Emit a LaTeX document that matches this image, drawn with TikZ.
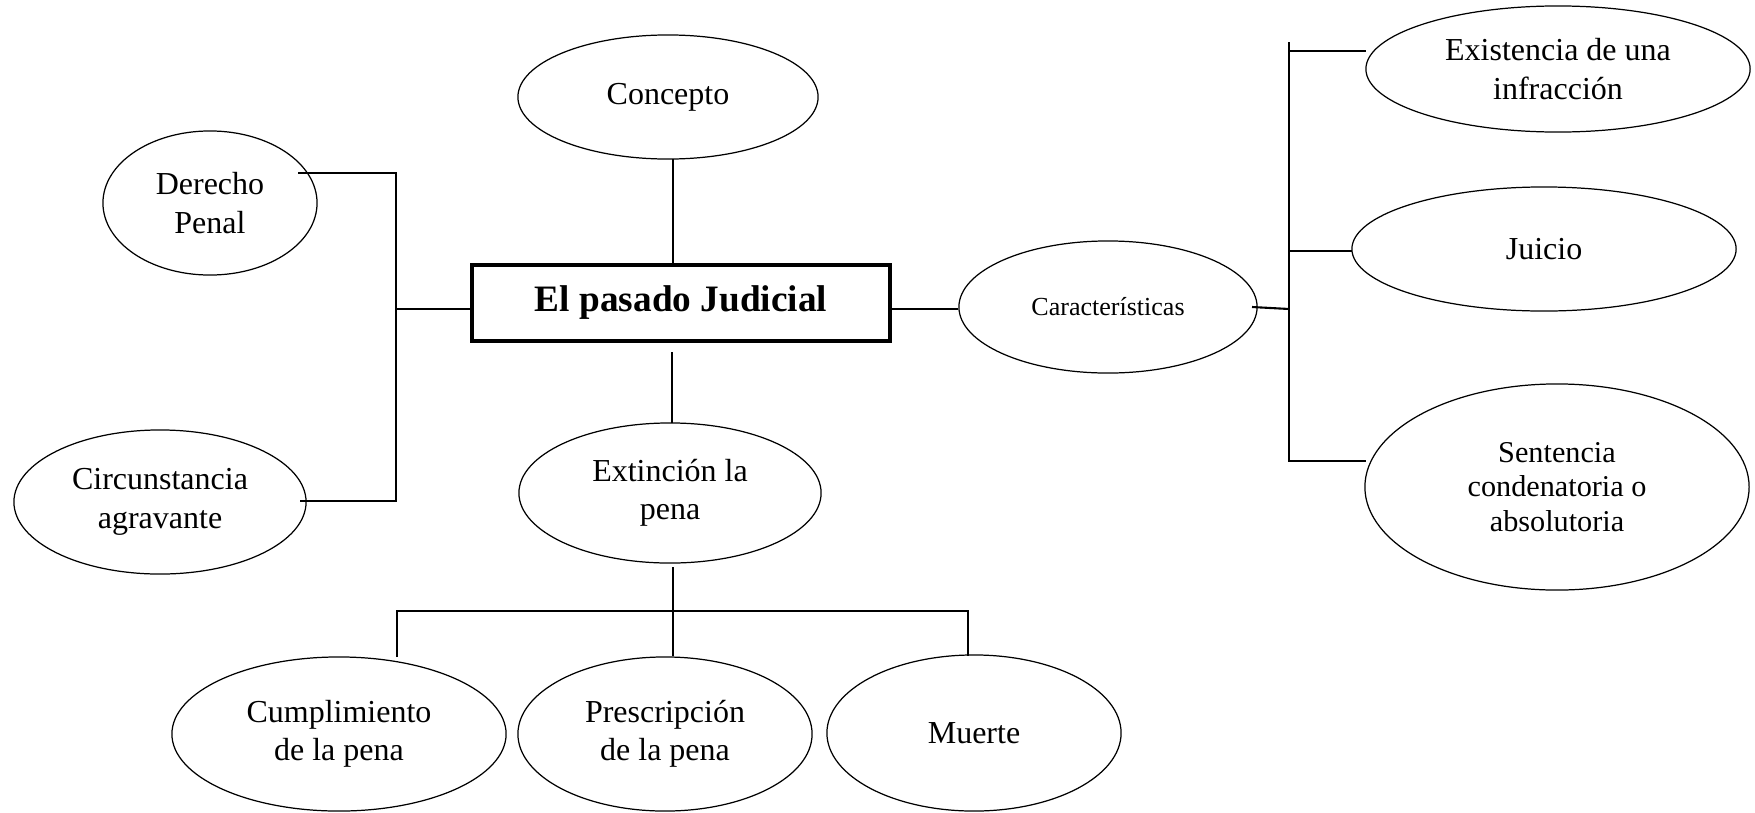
\documentclass[tikz,border=0pt]{standalone}
\usepackage{fontspec}
\setmainfont{Liberation Serif}
\usetikzlibrary{shapes.geometric}
\tikzset{
  oval/.style={ellipse, draw, line width=0.35pt, inner sep=0pt, align=center,
    font=\fontsize{9.1pt}{10.9pt}\selectfont},
  titlebox/.style={rectangle, draw, line width=1.1pt, inner sep=0pt,
    minimum width=41.8mm, minimum height=7.6mm, font=\fontsize{10.6pt}{12pt}\selectfont\bfseries},
  conn/.style={line width=0.6pt}
}
\begin{document}
\begin{tikzpicture}[x=0.01cm, y=-0.01cm]
\useasboundingbox (0,0) rectangle (1755,812);
% nodes
\node[titlebox] (box) at (681,303) {El pasado Judicial};
\node[oval, minimum width=30mm, minimum height=12.4mm] (co) at (668,97) {Concepto};
\node[oval, minimum width=21.4mm, minimum height=14.4mm] (dp) at (210,203) {Derecho\\Penal};
\node[oval, minimum width=29.2mm, minimum height=14.4mm] (ca) at (160,502) {Circunstancia\\agravante};
\node[oval, minimum width=30.2mm, minimum height=14mm] (ex) at (670,493) {Extinción la\\pena};
\node[oval, minimum width=33.4mm, minimum height=15.4mm] (cu) at (339,734) {Cumplimiento\\de la pena};
\node[oval, minimum width=29.4mm, minimum height=15.4mm] (pr) at (665,734) {Prescripción\\de la pena};
\node[oval, minimum width=29.4mm, minimum height=15.6mm] (mu) at (974,733) {Muerte};
\node[oval, minimum width=29.8mm, minimum height=13.2mm, font=\fontsize{7.4pt}{8.5pt}\selectfont] (car) at (1108,307) {Características};
\node[oval, minimum width=38.4mm, minimum height=12.6mm] (ei) at (1558,69) {Existencia de una\\infracción};
\node[oval, minimum width=38.4mm, minimum height=12.4mm] (ju) at (1544,249) {Juicio};
\node[oval, minimum width=38.4mm, minimum height=20.6mm, font=\fontsize{8.6pt}{9.9pt}\selectfont] (se) at (1557,487) {Sentencia\\condenatoria o\\absolutoria};
% junction coordinates
\coordinate (dpe) at (298,173);
\coordinate (cae) at (300,501);
\coordinate (lj) at (396,309);
\coordinate (bw) at (box.west |- lj);
\coordinate (be) at (box.east |- lj);
\coordinate (bs) at (672,352);
\coordinate (et) at (672,423);
\coordinate (eb) at (673,567);
\coordinate (pt) at (673,656);
\coordinate (bl) at (397,611);
\coordinate (br) at (968,611);
\coordinate (cut) at (397,657);
\coordinate (mut) at (968,656);
\coordinate (cre) at (1252,307);
\coordinate (rj) at (1289,309);
\coordinate (rt) at (1289,42);
\coordinate (rb) at (1289,462);
\coordinate (eiw) at (1366,51);
\coordinate (juw) at (1352,251);
\coordinate (sew) at (1366,461);
\coordinate (cot) at (673,159);
\coordinate (bt) at (673,263);
% connectors
\draw[conn] (dpe) -| (lj) |- (cae);
\draw[conn] (lj) -- (bw);
\draw[conn] (cot) -- (bt);
\draw[conn] (bs) -- (et);
\draw[conn] (eb) -- (pt);
\draw[conn] (cut) -- (bl) -- (br) -- (mut);
\draw[conn] (be) -- (car.west |- be);
\draw[conn] (cre) -- (rj);
\draw[conn] (rt) -- (rb);
\draw[conn] (rt |- eiw) -- (eiw);
\draw[conn] (rt |- juw) -- (juw);
\draw[conn] (rt |- sew) -- (sew);
\end{tikzpicture}
\end{document}
